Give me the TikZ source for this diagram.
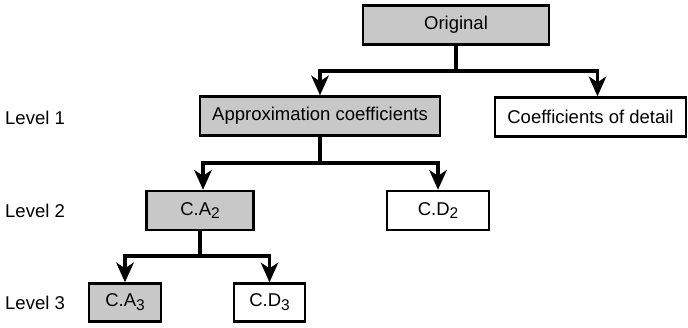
\documentclass[tikz,border=0pt]{standalone}
\usepackage{fontspec}
\setmainfont{Liberation Sans}
\definecolor{boxgray}{RGB}{200,200,200}
\newcommand\sbs[1]{\raisebox{-0.4ex}{\fontsize{15.5}{15.5}\selectfont #1}}
\newcommand\ahead[1]{\fill[black] (#1) -- ++(-9,-20) -- ++(9,6) -- ++(9,-6) -- cycle;}
\begin{document}
\begin{tikzpicture}[x=1pt,y=-1pt,
  font=\fontsize{18.5}{21}\selectfont,
  box/.style={draw=black,line width=2.5pt,inner sep=0pt,minimum height=39pt},
  grayb/.style={box,fill=boxgray},
  whiteb/.style={box,fill=white},
  conn/.style={line width=3.4pt,line join=miter},
  arr/.style={conn,shorten >=10pt},
  lvl/.style={anchor=west,inner sep=0pt}]
\fill[white] (0,0) rectangle (688,327);
\useasboundingbox (0,0) rectangle (688,327);
\node[grayb,minimum width=186pt] (orig) at (456,25) {Original};
\node[grayb,minimum width=240pt] (approx) at (320,116) {Approximation coefficients};
\node[whiteb,minimum width=191pt] (detail) at (590.5,117) {Coefficients of detail};
\node[grayb,minimum width=107pt] (ca2) at (200,210.5) {C.A\sbs{2}};
\node[whiteb,minimum width=102pt] (cd2) at (438,210.5) {C.D\sbs{2}};
\node[grayb,minimum width=72pt,minimum height=38pt] (ca3) at (125,302.5) {C.A\sbs{3}};
\node[whiteb,minimum width=71pt,minimum height=38pt] (cd3) at (269.5,302.5) {C.D\sbs{3}};
\node[lvl] (l1) at (5,118) {Level 1};
\node[lvl] (l2) at (5,211) {Level 2};
\node[lvl] (l3) at (5,303) {Level 3};
% arrow tip points
\coordinate (tA) at (approx.north);
\coordinate (tD) at ([xshift=7pt]detail.north);
\coordinate (tA2) at ([xshift=3pt]ca2.north);
\coordinate (tD2) at (cd2.north);
\coordinate (tA3) at (ca3.north);
\coordinate (tD3) at (cd3.north);
% level 1 connectors
\coordinate (j1) at (456,71);
\draw[conn] (orig.south) -- (j1);
\draw[arr] (j1) -| (tA);
\draw[arr] (j1) -| (tD);
% level 2 connectors
\coordinate (j2) at (320,163);
\draw[conn] (approx.south) -- (j2);
\draw[arr] (j2) -| (tA2);
\draw[arr] (j2) -| (tD2);
% level 3 connectors
\coordinate (j3) at (200,256);
\draw[conn] (ca2.south) -- (j3);
\draw[arr] (j3) -| (tA3);
\draw[arr] (j3) -| (tD3);
\ahead{tA}\ahead{tD}\ahead{tA2}\ahead{tD2}\ahead{tA3}\ahead{tD3}
\end{tikzpicture}
\end{document}
